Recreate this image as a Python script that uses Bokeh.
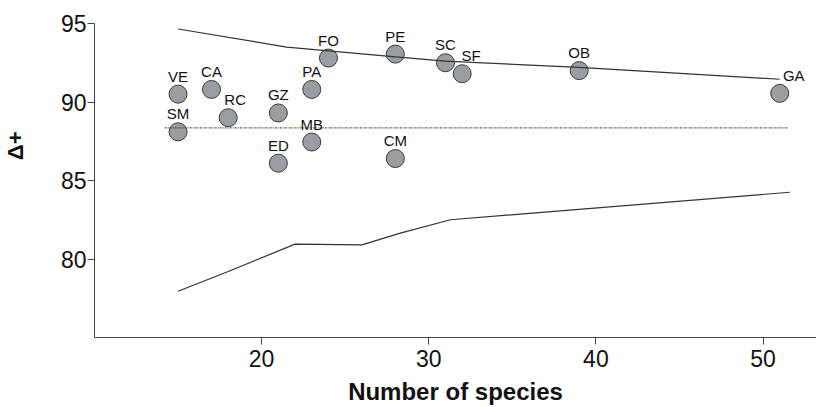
from bokeh.plotting import figure
from bokeh.models import ColumnDataSource, Range1d, FixedTicker, Title
from bokeh.embed import file_html
from bokeh.resources import INLINE
from bokeh.core.properties import value

# ---- data ----
sites = ["VE", "SM", "CA", "RC", "GZ", "ED", "PA", "MB", "FO", "PE", "CM", "SC", "SF", "OB", "GA"]
n_species = [15, 15, 17, 18, 21, 21, 23, 23, 24, 28, 28, 31, 32, 39, 51]
delta_plus = [90.5, 88.1, 90.8, 89.0, 89.3, 86.1, 90.8, 87.45, 92.8, 93.05, 86.4, 92.5, 91.8, 92.0, 90.55]

upper_x = [15, 21.5, 28, 31, 39, 51]
upper_y = [94.65, 93.5, 92.87, 92.6, 92.2, 91.45]
lower_x = [15, 18, 22, 26, 28.3, 31.3, 51.6]
lower_y = [77.95, 79.2, 80.95, 80.9, 81.65, 82.5, 84.25]
mean_x = [14.2, 51.5]
mean_delta = 88.35

x_ticks = [20, 30, 40, 50]
y_ticks = [80, 85, 90, 95]

# ---- label nudges (style only) ----
label_dx = {"GA": 14, "RC": 7, "SF": 9}
dx = [label_dx.get(s, 0) for s in sites]
dy = [-18 for s in sites]

src = ColumnDataSource(dict(x=n_species, y=delta_plus, name=sites, dx=dx, dy=dy))

p = figure(width=816, height=407,
           x_range=Range1d(10, 53.2), y_range=Range1d(75, 95),
           output_backend="svg", toolbar_location=None,
           min_border_left=94, min_border_right=0,
           min_border_top=23, min_border_bottom=69)
p.background_fill_color = "white"
p.border_fill_color = "white"
p.outline_line_color = None
p.grid.visible = False

p.scatter("x", "y", source=src, size=18, fill_color="#9a9ea2",
          line_color="#3a3a3a", line_width=1)

p.text("x", "y", text="name", source=src, x_offset="dx", y_offset="dy",
       text_font=value("Liberation Sans"), text_font_size="15px",
       text_color="#111111", text_align="center", text_baseline="middle")

p.line(upper_x, upper_y, line_color="#333333", line_width=1.2)
p.line(lower_x, lower_y, line_color="#333333", line_width=1.2)
p.line(mean_x, [mean_delta, mean_delta], line_color="#333333",
       line_width=1, line_dash="2 1 1 1")

for ax in (p.xaxis[0], p.yaxis[0]):
    ax.axis_line_color = "#444444"
    ax.major_tick_line_color = "#444444"
    ax.major_tick_out = 7
    ax.major_tick_in = 0
    ax.minor_tick_line_color = None
    ax.major_label_text_font = "Liberation Sans"
    ax.major_label_text_font_size = "23px"
    ax.major_label_text_color = "#111111"

p.xaxis[0].ticker = FixedTicker(ticks=x_ticks)
p.yaxis[0].ticker = FixedTicker(ticks=y_ticks)
p.xaxis[0].major_label_standoff = 5
p.yaxis[0].major_label_standoff = 1

p.xaxis[0].axis_label = "Number of species"
p.xaxis[0].axis_label_text_font = "Liberation Sans"
p.xaxis[0].axis_label_text_font_style = "bold"
p.xaxis[0].axis_label_text_font_size = "24px"
p.xaxis[0].axis_label_text_color = "#111111"
p.xaxis[0].axis_label_standoff = 8

# invisible spacer label widens the y-axis panel so the title sits further out
p.yaxis[0].axis_label = "\u00a0"
p.yaxis[0].axis_label_text_font_size = "1px"
p.yaxis[0].axis_label_standoff = 26

ytitle = Title(text="Δ+", align="right", offset=108, standoff=0,
               text_font="Liberation Sans", text_font_style="bold",
               text_font_size="22px", text_color="#111111")
p.add_layout(ytitle, "left")

open("out.html", "w").write(file_html(p, INLINE))
